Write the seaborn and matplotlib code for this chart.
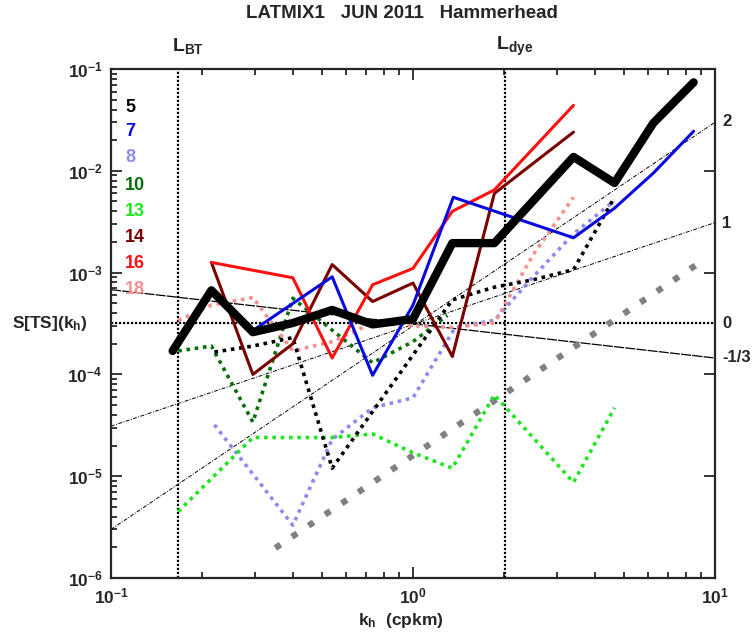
import seaborn as sns
import matplotlib.pyplot as plt
import numpy as np

# wavenumber (cpkm) / spectral level for each profile
s5_x = [0.16, 0.215, 0.295, 0.40, 0.54, 0.735, 1.0, 1.35, 1.86, 3.4, 4.65, 6.25, 8.5]
s5_y = [1.7e-4, 6.7e-4, 2.6e-4, 3.2e-4, 4.3e-4, 3.1e-4, 3.5e-4, 1.95e-3, 1.95e-3, 1.37e-2, 7.6e-3, 2.95e-2, 7.4e-2]
s7_x = [0.295, 0.54, 0.735, 1.0, 1.36, 3.4, 4.65, 6.25, 8.5]
s7_y = [2.7e-4, 9.1e-4, 9.8e-5, 4.8e-4, 5.5e-3, 2.2e-3, 4.3e-3, 9.5e-3, 2.45e-2]
s8_x = [0.22, 0.40, 0.54, 0.735, 1.0, 1.38, 1.86, 2.5, 3.4, 4.65]
s8_y = [3.2e-5, 3.3e-6, 2.3e-5, 4.7e-5, 5.9e-5, 2.9e-4, 3.4e-4, 9.1e-4, 2.4e-3, 5.1e-3]
s10_x = [0.167, 0.215, 0.295, 0.40, 0.735, 1.0, 1.3]
s10_y = [1.7e-4, 1.9e-4, 3.4e-5, 5.6e-4, 1.3e-4, 2.1e-4, 3.8e-4]
s13_x = [0.167, 0.295, 0.54, 0.735, 1.0, 1.35, 1.86, 3.4, 4.65]
s13_y = [4.5e-6, 2.4e-5, 2.4e-5, 2.6e-5, 1.7e-5, 1.2e-5, 6.3e-5, 8.7e-6, 4.7e-5]
s14_x = [0.215, 0.295, 0.40, 0.54, 0.735, 1.0, 1.35, 1.86, 3.4]
s14_y = [1.26e-3, 1.0e-4, 2.0e-4, 1.2e-3, 5.2e-4, 7.9e-4, 1.5e-4, 6.0e-3, 2.4e-2]
s16_x = [0.215, 0.40, 0.54, 0.735, 1.0, 1.35, 1.86, 3.4]
s16_y = [1.26e-3, 8.9e-4, 1.45e-4, 7.6e-4, 1.1e-3, 4.0e-3, 6.5e-3, 4.4e-2]
s18_x = [0.167, 0.215, 0.295, 0.40, 0.54, 0.735, 1.0, 1.35, 1.86, 2.5, 3.4]
s18_y = [3.4e-4, 4.8e-4, 5.7e-4, 1.7e-4, 2.1e-4, 3.2e-4, 3.0e-4, 2.9e-4, 3.2e-4, 1.5e-3, 5.5e-3]
sdot_x = [0.22, 0.295, 0.40, 0.54, 1.35, 1.86, 2.5, 3.4, 4.65]
sdot_y = [1.66e-4, 1.9e-4, 2.3e-4, 1.2e-5, 5.4e-4, 7.2e-4, 8.5e-4, 1.07e-3, 5.5e-3]

# reference slopes, values at k=0.1 and k=10
ref_x = [0.1, 10.0]
ref2_y = [3.0e-6, 3.0e-2]
ref1_y = [3.1e-5, 3.1e-3]
ref0_y = [3.2e-4, 3.2e-4]
refm_y = [6.8e-4, 1.45e-4]
sq_x = [0.35, 8.85]
sq_y = [1.97e-6, 1.24e-3]

L_bt = 0.167
L_dye = 2.02

labels = ['5', '7', '8', '10', '13', '14', '16', '18']
colors = ['black', '#0a0ae0', '#8c8cf0', '#0a6e0a', '#1ee61e', '#7a0000', '#ff1010', '#f59090']

sns.set_style("ticks")
plt.rcParams['font.family'] = ['Liberation Sans', 'DejaVu Sans']
plt.rcParams['font.weight'] = 'bold'
plt.rcParams['mathtext.fontset'] = 'custom'
plt.rcParams['mathtext.rm'] = 'Liberation Sans:bold'
plt.rcParams['mathtext.it'] = 'Liberation Sans:bold'
plt.rcParams['mathtext.bf'] = 'Liberation Sans:bold'

fig = plt.figure(figsize=(7.53, 6.34), dpi=100)
ax = fig.add_axes([0.1474, 0.0883, 0.8021, 0.8028])
ax.set_xscale('log')
ax.set_yscale('log')

# reference lines
ax.plot(ref_x, ref2_y, color='black', lw=0.7, ls=(0, (4, 1.5, 1, 1.5)))
ax.plot(ref_x, ref1_y, color='black', lw=0.7, ls=(0, (4, 1.5, 1, 1.5)))
ax.plot(ref_x, ref0_y, color='black', lw=1.6, ls=(0, (1, 0.8)))
ax.plot(ref_x, refm_y, color='black', lw=0.9, ls=(0, (8, 1)))
sq, = ax.plot(sq_x, sq_y, color='#808080', lw=4.5, ls=(0, (1, 2.2)))
sq.set_dash_capstyle('butt')
ax.axvline(L_bt, color='black', lw=1.6, ls=(0, (1, 0.8)))
ax.axvline(L_dye, color='black', lw=1.6, ls=(0, (1, 0.8)))

# dotted profiles
for xs, ys, c in [(s8_x, s8_y, colors[2]), (s13_x, s13_y, colors[4]),
                  (s10_x, s10_y, colors[3]), (s18_x, s18_y, colors[7]),
                  (sdot_x, sdot_y, 'black')]:
    l = sns.lineplot(x=xs, y=ys, sort=False, estimator=None, color=c,
                     lw=2.6, ax=ax, legend=False)
    l.lines[-1].set_linestyle((0, (1, 1.3)))

# solid profiles
sns.lineplot(x=s14_x, y=s14_y, sort=False, estimator=None, color=colors[5], lw=2.2, ax=ax)
sns.lineplot(x=s16_x, y=s16_y, sort=False, estimator=None, color=colors[6], lw=2.2, ax=ax)
sns.lineplot(x=s7_x, y=s7_y, sort=False, estimator=None, color=colors[1], lw=2.2, ax=ax)
sns.lineplot(x=s5_x, y=s5_y, sort=False, estimator=None, color=colors[0], lw=6, ax=ax)

ax.set_xlim(0.1, 10)
ax.set_ylim(1e-6, 1e-1)
ax.set_xticks([0.1, 1, 10], [r'$\mathbf{10^{-1}}$', r'$\mathbf{10^{0}}$', r'$\mathbf{10^{1}}$'])
ax.set_yticks([1e-6, 1e-5, 1e-4, 1e-3, 1e-2, 1e-1],
              [r'$\mathbf{10^{-%d}}$' % i for i in [6, 5, 4, 3, 2, 1]])
ax.tick_params(which='both', direction='in', top=True, right=True, labelsize=12.5, width=1.3)
ax.tick_params(which='major', length=8, pad=6)
ax.tick_params(which='minor', length=4)
ax.tick_params(axis='y', which='minor', right=False)
for s in ax.spines.values():
    s.set_linewidth(1.6)
ax.set_xlabel('')
ax.set_ylabel('')

def ftext(px, py, s, **kw):
    fig.text(px / 753, 1 - py / 634, s, fontweight='bold', **kw)

ftext(402, 14, 'LATMIX1   JUN 2011   Hammerhead', fontsize=13.5, ha='center', va='center')
ftext(188, 46, r'$\mathbf{L_{BT}}$', fontsize=14, ha='center', va='center')
ftext(515, 46, r'$\mathbf{L_{dye}}$', fontsize=14, ha='center', va='center')
ftext(12, 323, r'S[TS](k$_\mathbf{h}$)', fontsize=12.5, ha='left', va='center')
ftext(358, 620, r'k$_\mathbf{h}$  (cpkm)', fontsize=12.5, ha='left', va='center')
for txt, py in [('2', 122), ('1', 223), ('0', 323), ('-1/3', 358)]:
    ftext(722, py, txt, fontsize=12, ha='left', va='center')

leg_y = [107, 132, 158, 185, 212, 238, 263, 290]
for lab, c, py in zip(labels, colors, leg_y):
    ftext(125, py, lab, fontsize=13, color=c, ha='left', va='center')

fig.savefig('out.png', dpi=100)
